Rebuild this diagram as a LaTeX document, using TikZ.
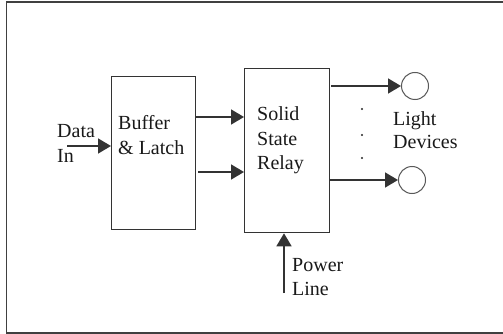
\documentclass[tikz,border=0pt]{standalone}
\usepackage{fontspec}
\setmainfont{Liberation Serif}
\usetikzlibrary{arrows.meta}
\begin{document}
\begin{tikzpicture}[x=1pt,y=-1pt,
  block/.style={draw=black!80,line width=1.3pt,fill=none},
  conn/.style={draw=black!80,line width=1.6pt,-{Triangle[length=13pt,width=15pt]}},
  lamp/.style={draw=black!65,line width=1pt,circle,minimum size=27pt,inner sep=0pt},
  lbl/.style={anchor=base west,inner sep=0pt,font=\fontsize{20}{24}\selectfont,text=black!90},
  dot/.style={circle,fill=black!85,inner sep=0pt,minimum size=2.2pt}]
\useasboundingbox (0,0) rectangle (503,334);
\fill[white] (0,0) rectangle (503,334);
\draw[black!75,line width=1.6pt] (503,2) -- (6.5,2) -- (6.5,333) -- (503,333);
% blocks
\node[block,minimum width=84pt,minimum height=153pt,anchor=north west] (buf) at (111,76) {};
\node[block,minimum width=85pt,minimum height=164pt,anchor=north west] (ssr) at (244,68) {};
% lamps
\node[lamp] (l1) at (415,86) {};
\node[lamp] (l2) at (412,180) {};
% labels
\node[lbl] (d1) at (57,138) {Data};
\node[lbl] (d2) at (57,162) {In};
\node[lbl] (b1) at (118,130) {Buffer};
\node[lbl] (b2) at (118,154) {\& Latch};
\node[lbl] (s1) at (257,121) {Solid};
\node[lbl] (s2) at (257,146) {State};
\node[lbl] (s3) at (257,169) {Relay};
\node[lbl] (g1) at (393,125) {Light};
\node[lbl] (g2) at (393,149) {Devices};
\node[lbl] (p1) at (292,271) {Power};
\node[lbl] (p2) at (292,295) {Line};
% dots
\node[dot] (o1) at (362,109) {};
\node[dot] (o2) at (362,135) {};
\node[dot] (o3) at (362,158) {};
% connector ends
\coordinate (din) at (67,146);
\coordinate (pin) at (284,293);
\draw[conn] (din) -- (buf.west |- din);
\draw[conn] (buf.east |- 0,117) -- (ssr.west |- 0,117);
\draw[conn] (buf.east |- 0,172) ++(2,0) -- (ssr.west |- 0,172);
\draw[conn] (ssr.east |- l1) ++(1,0) -- (l1.west);
\draw[conn] (ssr.east |- l2) -- (l2.west);
\draw[conn] (pin) -- (pin |- ssr.south);
\end{tikzpicture}
\end{document}
